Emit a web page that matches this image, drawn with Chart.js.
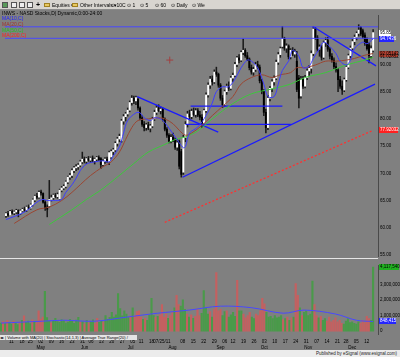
<!DOCTYPE html>
<html><head><meta charset="utf-8">
<script src="https://cdn.jsdelivr.net/npm/chart.js@4.4.1/dist/chart.umd.min.js"></script>
<style>
*{box-sizing:border-box}
html,body{margin:0;padding:0}
body{width:400px;height:357px;overflow:hidden;background:#808080;position:relative;font-family:"Liberation Sans",Arial,sans-serif}
#tb{position:absolute;left:0;top:0;width:400px;height:10px;background:#d8d5d0;border-bottom:1px solid #8c8c8c;font-size:5px;line-height:10px;color:#000;white-space:nowrap}
#tb span{position:absolute;top:0}
.ic{position:absolute;top:2px;width:6px;height:6px;border:1px solid #555;background:#eee}
.fd{position:absolute;top:3px;width:6px;height:4px;background:#e8c860;border:1px solid #a08020}
#title{position:absolute;left:2px;top:10px;font-size:5px;color:#000;white-space:nowrap}
.lg{position:absolute;left:2px;font-size:5px;white-space:nowrap}
#c1{position:absolute;left:0;top:10px}
#c2{position:absolute;left:0;top:261px}
#sep{position:absolute;left:0;top:258px;width:378px;height:1px;background:#e6e6e6}
#tabs{position:absolute;left:0;top:335px;width:137px;height:5px;background:#e4e4e4;font-size:4px;line-height:5px;color:#000;white-space:nowrap;overflow:hidden}
#status{position:absolute;left:0;top:350px;width:400px;height:7px;background:#ececec;font-size:4.5px;line-height:7px;text-align:right;padding-right:3px;color:#222}
</style></head><body>
<canvas id="c1" width="400" height="251"></canvas>
<canvas id="c2" width="400" height="96"></canvas>
<div id="tb">
<div class="ic" style="left:2px;background:#5a9a5a"></div>
<div class="ic" style="left:11px"></div>
<div class="ic" style="left:19px"></div>
<div class="ic" style="left:27px"></div>
<span style="left:36px;font-weight:bold;font-size:7px">+</span>
<div class="fd" style="left:44px"></div>
<span style="left:52px">Equities ▾</span>
<div class="fd" style="left:72px"></div>
<span style="left:80px">Other Intervals ▾</span>
<span style="left:111px">⊙ 10C</span>
<span style="left:127px">⊙ 1</span>
<span style="left:140px">⊙ 5</span>
<span style="left:155px">⊙ 60</span>
<span style="left:171px">⊙ Daily</span>
<span style="left:192px">⊙ We</span>
</div>
<div id="title">INWS - NASD Stocks,D| Dynamic,0:00-24:00</div>
<div class="lg" style="top:15px;color:#2020ff">MA(10,C)</div>
<div class="lg" style="top:21px;color:#a03030">MA(20,C)</div>
<div class="lg" style="top:27px;color:#20c020">MA(50,C)</div>
<div class="lg" style="top:32px;color:#ff2020">MA(200,C)</div>
<div id="sep"></div>
<div id="tabs">◂▸ | Volume with MA(20) | Stochastic(14,1,3) | Average True Range(20) /</div>
<div id="status">Published by eSignal (www.esignal.com)</div>
<script>
// ---- price data (daily, Apr 4 2011 .. Dec 15 2011) ----
const O = [62.2,62.6,62.3,63.0,62.7,62.9,63.2,62.6,63.1,63.4,63.2,63.8,63.6,64.2,65.1,65.8,65.6,66.5,66.3,64.7,63.8,64.0,65.2,65.5,66.0,65.7,65.3,66.9,67.3,67.6,68.4,69.3,69.6,70.5,71.0,71.2,71.5,72.1,72.6,72.2,72.7,72.4,72.8,72.3,72.6,72.9,72.7,71.6,72.2,72.6,72.1,73.0,74.0,74.3,75.5,76.3,76.0,79.6,80.4,80.9,81.6,83.0,83.8,83.3,83.6,82.0,80.2,79.0,78.4,78.9,78.3,78.7,80.0,81.2,82.0,81.5,81.8,80.0,78.1,77.0,75.9,76.6,76.2,74.8,75.9,74.0,70.2,76.6,79.0,80.9,80.4,81.4,80.8,81.5,80.7,80.3,79.2,81.5,84.4,86.2,87.3,86.8,88.6,88.2,86.2,83.8,82.6,85.0,86.0,85.6,87.5,88.0,90.0,91.2,90.8,92.2,92.6,91.6,91.0,89.4,88.6,89.1,90.0,89.5,87.0,85.0,81.2,78.4,83.8,85.6,86.8,87.5,90.4,91.8,93.3,94.7,93.0,93.4,91.4,92.6,91.9,90.6,87.5,84.2,87.3,86.0,87.6,88.8,89.3,92.0,96.5,94.9,92.8,93.2,91.3,94.0,94.4,92.8,91.5,90.8,89.6,89.0,87.2,86.0,85.3,87.2,89.5,91.6,93.0,94.2,95.0,95.7,96.8,96.2,95.4,94.6,93.6,91.6,92.6];
const H = [62.8,63.0,63.2,63.3,63.1,63.4,63.3,63.3,63.6,63.8,64.0,64.2,64.4,65.3,66.0,66.3,66.8,66.9,66.4,65.0,64.2,68.7,66.0,66.2,66.3,66.4,67.1,67.6,67.9,68.6,69.5,70.0,70.8,71.3,71.6,71.8,72.4,73.9,73.0,72.9,73.1,73.0,73.2,72.8,73.1,73.2,72.9,72.5,72.9,73.0,74.1,74.3,74.6,75.8,76.6,77.2,79.9,80.8,81.2,82.0,83.3,84.3,84.2,84.2,83.8,82.2,80.6,79.5,79.2,79.4,79.0,80.3,81.6,82.5,82.6,82.2,82.0,80.2,78.4,77.3,77.1,77.4,76.5,76.2,76.1,74.4,77.0,79.5,81.4,81.6,81.8,82.0,81.9,81.9,81.4,80.8,81.8,84.8,86.6,87.8,87.9,89.0,89.5,88.4,86.5,84.3,85.3,86.4,86.8,87.8,88.4,90.4,91.5,91.8,92.5,94.7,92.9,92.2,91.2,89.9,89.5,90.4,90.6,89.9,87.3,85.4,81.8,84.3,86.0,87.2,87.9,90.8,92.2,93.2,97.0,95.0,93.8,93.6,92.9,93.1,92.8,92.4,88.0,87.8,87.8,88.0,89.2,89.8,92.5,97.0,96.8,95.3,93.6,93.5,94.3,94.9,95.0,93.1,92.0,91.2,90.3,89.3,87.8,87.0,87.5,89.8,91.9,93.4,94.6,95.4,96.0,97.3,97.0,96.5,95.8,94.9,94.0,93.4,96.4];
const L = [61.9,62.1,62.2,62.5,62.4,62.6,62.0,62.4,62.9,63.0,63.0,63.5,63.4,64.0,64.8,65.3,65.4,66.0,64.5,63.2,62.0,63.8,64.9,65.2,65.5,65.4,65.1,66.6,67.0,67.3,68.1,68.9,69.2,70.1,70.5,70.7,71.2,71.8,71.9,71.8,72.2,72.0,72.1,71.7,72.2,72.3,70.9,71.3,71.8,72.0,71.6,72.7,73.4,74.0,75.0,75.8,75.7,79.0,79.6,80.5,81.3,82.5,82.8,82.6,81.6,79.8,78.6,77.8,77.9,78.0,77.6,78.4,79.7,80.8,81.3,80.9,79.6,77.8,76.6,75.6,75.6,75.8,74.4,74.2,70.8,69.3,69.8,75.8,78.5,79.8,80.0,80.5,80.3,80.4,79.8,78.4,78.9,81.2,84.0,85.6,86.2,86.5,87.8,85.8,83.4,82.1,82.3,84.5,85.2,85.3,86.9,87.7,89.6,90.3,90.5,91.8,91.3,90.7,89.0,88.2,88.0,88.7,89.2,86.6,84.6,80.6,77.4,78.0,83.3,85.0,86.2,87.2,90.0,91.3,93.0,92.6,92.2,91.0,91.0,91.6,91.3,85.0,82.0,83.8,85.6,85.7,87.2,88.0,88.4,91.6,94.6,92.4,91.5,90.8,91.0,93.3,92.4,91.0,90.4,89.2,88.6,85.0,85.6,84.5,85.0,86.9,89.2,91.2,92.7,93.6,94.5,95.2,95.3,94.8,93.5,92.6,90.3,91.2,92.3];
const C = [62.6,62.3,63.0,62.7,62.9,63.2,62.6,63.1,63.4,63.2,63.8,63.6,64.2,65.1,65.8,65.6,66.5,66.4,64.7,63.6,63.4,65.2,65.5,66.0,65.7,66.1,66.9,67.3,67.6,68.4,69.3,69.6,70.5,71.0,71.2,71.5,72.1,72.6,72.2,72.7,72.4,72.8,72.3,72.6,72.9,72.5,71.6,72.2,72.6,72.3,73.8,74.0,74.3,75.5,76.3,76.8,79.6,80.4,80.9,81.6,83.0,83.8,83.3,83.9,82.0,80.2,79.0,78.4,78.9,78.3,78.7,80.0,81.2,82.0,81.5,81.8,80.0,78.1,77.0,75.9,76.6,76.2,74.8,75.6,71.3,69.8,76.6,79.0,80.9,80.4,81.4,80.8,81.5,80.7,80.3,79.2,81.5,84.4,86.2,87.3,86.8,88.6,88.2,86.2,83.8,82.6,85.0,86.0,85.6,87.5,88.0,90.0,91.2,90.8,92.2,92.6,91.6,91.0,89.4,88.6,89.1,90.0,89.5,87.0,85.0,81.2,78.4,83.8,85.6,86.8,87.5,90.4,91.8,92.9,94.7,93.0,93.4,91.4,92.6,91.9,92.3,85.4,83.8,87.3,86.0,87.6,88.8,89.3,92.0,96.5,94.9,92.8,93.2,91.3,94.0,94.4,92.8,91.5,90.8,89.6,89.0,87.2,86.0,85.3,87.2,89.5,91.6,93.0,94.2,95.0,95.7,96.3,95.6,95.1,93.9,92.9,91.6,92.9,95.85];
// volume in thousands of shares
const VOL = [520,610,480,700,560,450,640,530,420,590,700,980,560,650,480,720,600,530,1300,780,900,2550,870,650,540,700,820,610,560,740,680,520,590,760,640,500,710,880,560,620,470,690,540,610,720,480,830,560,650,590,1000,760,880,1200,900,1050,2400,1450,980,1300,1100,870,950,1500,1000,1250,1300,900,760,820,700,1050,2100,1000,880,950,1050,1700,900,1100,820,1000,1200,1500,2300,1700,1600,2000,1400,1100,900,1050,820,950,1400,1000,1150,2600,1500,1100,1250,900,1400,3750,1300,1400,1000,1250,1300,900,1050,1200,950,3250,1300,1300,1100,850,1000,1200,900,800,1100,1000,1300,2100,1750,1200,900,950,800,1000,850,900,1000,750,800,900,700,850,900,3050,2300,1500,1000,1200,1300,1000,1100,3200,1700,1000,850,950,700,800,650,900,600,700,850,600,700,500,450,650,800,550,600,500,450,600,500,700,550,950,800,700,4100];
// moving averages (day index -> value)
const MA10_IDX = [0,9,15,18,20,23,27,29,32,34,36,39,43,47,50,52,55,57,59,63,65,67,70,72,75,77,79,82,84,86,87,89,93,97,100,102,105,108,111,114,117,119,122,125,127,130,132,134,137,139,142,144,147,149,152,154,157,160,162,165,167,169,173,175,178];
const MA10 = [61.5,62.9,64.7,65.2,65.0,65.0,65.2,66.5,67.9,69.1,70.5,71.7,72.1,72.3,72.1,73.2,74.9,77.4,79.7,81.1,81.1,80.2,79.7,80.2,80.0,79.3,78.3,76.7,75.6,74.7,74.9,77.4,78.5,80.6,82.9,85.0,85.9,85.9,87.3,89.4,90.8,90.6,89.4,86.4,84.1,84.1,86.4,88.9,90.6,92.6,91.5,89.4,89.7,91.1,92.9,94.1,93.3,92.0,90.6,89.9,90.8,92.9,94.1,93.8,94.7];
const MA20_IDX = [4,15,21,27,32,36,41,47,51,55,58,61,64,69,74,77,81,84,87,90,95,100,105,110,114,119,124,129,133,138,141,145,150,155,160,165,169,174,178];
const MA20 = [60.8,63.3,63.8,65.0,66.5,67.9,69.6,71.2,72.1,73.9,76.2,78.4,79.7,80.0,80.2,80.0,79.1,77.9,77.0,77.4,78.8,80.6,82.3,84.1,86.4,87.6,88.1,87.6,88.1,88.5,89.4,89.4,89.9,90.6,90.6,90.8,91.1,91.7,92.0];
const MA50_IDX = [21,32,39,47,62,69,77,82,87,93,100,110,119,129,138,145,155,165,174,178];
const MA50 = [60.6,63.3,65.2,67.2,71.8,73.9,75.3,76.2,76.7,77.8,80.0,82.8,84.6,85.5,86.4,87.6,88.5,89.9,90.8,91.3];
const MA200_IDX = [77,178];
const MA200 = [61.0,77.9];
const VMA_IDX = [0,20,30,45,60,75,90,105,120,135,145,160,170,178];
const VMA = [520,640,700,640,900,1150,1350,1600,1500,1150,1350,1100,700,620];
// hand-drawn study lines: [startIdx, startPrice, endIdx, endPrice]
const TRENDS = [[-0.5,96.91,180.4,96.91],[-0.5,94.80,180.4,94.80],[63.6,84.09,102.9,77.57],[89.5,82.33,134.0,82.33],[87.0,78.98,138.3,78.98],[85.6,69.28,178.9,86.38],[148.8,96.97,179.4,89.74]];
const CROSS = [{x:79.4,y:90.8}];
// axis ticks
const PRICE_TICKS = [55,60,65,70,75,80,85,90];
const VOL_TICKS = [0,1000,2000,3000];
const WEEK_IDX = [5,10,14,19,24,29,34,39,43,48,53,58,63,67,72,77,87,92,97,102,107,111,116,121,126,131,136,141,146,151,156,161,165,170,175];
const WEEK_LBL = ['11','18','25','02','09','16','23','31','06','13','20','27','05','11','18','07/25/11','08','15','22','29','06','12','19','26','03','10','17','24','31','07','14','21','28','05','12'];
const MONTH_IDX = [19,40,62,82,105,126,147,168];
const MONTH_LBL = ['May','Jun','Jul','Aug','Sep','Oct','Nov','Dec'];

const XMIN = -0.48, XMAX = 180.36;
const FONT = "Liberation Sans";
const idx = C.map((_, i) => i);
const pts = (ix, v) => ix.map((x, k) => ({x, y: v[k]}));

const tagPlugin = {
  id: 'tags',
  afterDraw(ch, args, opts) {
    const ctx = ch.ctx, ys = ch.scales.y;
    ctx.save();
    ctx.font = '4.5px "' + FONT + '"';
    ctx.textBaseline = 'middle';
    (opts.items || []).forEach(t => {
      const py = Math.round(ys.getPixelForValue(t.v));
      if (t.bg) { ctx.fillStyle = t.bg; ctx.fillRect(379, py - 3, t.w, 6); }
      ctx.fillStyle = t.fg;
      ctx.fillText(t.txt, 380, py);
    });
    ctx.restore();
  }
};

const lineDs = (data, color, extra) => Object.assign({type:'line', data, borderColor:color, borderWidth:1, pointRadius:0, fill:false, tension:0.35, order:0}, extra || {});

new Chart(document.getElementById('c1'), {
  type: 'bar',
  data: { datasets: [
    lineDs(pts(MA10_IDX, MA10), '#3c3cff'),
    lineDs(pts(MA20_IDX, MA20), '#9a4632'),
    lineDs(pts(MA50_IDX, MA50), '#3cc83c'),
    lineDs(pts(MA200_IDX, MA200), '#ff3030', {borderDash:[2,2], borderWidth:1.3, tension:0}),
    ...TRENDS.map(t => lineDs([{x:t[0],y:t[1]},{x:t[2],y:t[3]}], (t[1]===t[3] && t[0]<0) ? '#4848ff' : '#1a1aff', {borderWidth:(t[0]<0)?1:1.3, tension:0})),
    {type:'line', data: CROSS, showLine:false, pointStyle:'cross', pointRadius:3.5, borderColor:'#a04040', borderWidth:1, order:0},
    {type:'bar', data: idx.map(i => ({x:i, y:[O[i], C[i]]})), backgroundColor: idx.map(i => C[i] >= O[i] ? '#ffffff' : '#000000'), barThickness:1.3, minBarLength:1, grouped:false, order:1},
    {type:'bar', data: idx.map(i => ({x:i, y:[L[i], H[i]]})), backgroundColor:'#1a1a1a', barThickness:0.9, grouped:false, order:2}
  ]},
  options: {
    responsive:false, animation:false, devicePixelRatio:1,
    layout:{padding:0},
    plugins:{legend:{display:false}, tooltip:{enabled:false},
      tags:{items:[
        {v:C[C.length-1], txt:'95.85', bg:'#ffffff', fg:'#000', w:12},
        {v:MA10[MA10.length-1], txt:'94.7436', bg:'#2424ff', fg:'#fff', w:15},
        {v:MA20[MA20.length-1], txt:'92.05143', bg:'#b04030', fg:'#000', w:19},
        {v:MA50[MA50.length-1], txt:'91.02852', fg:'#000'},
        {v:MA200[MA200.length-1], txt:'77.92032', bg:'#ff2020', fg:'#fff', w:19}
      ]}},
    scales:{
      x:{type:'linear', min:XMIN, max:XMAX, display:false, offset:false},
      y:{position:'right', min:54.81, max:99.08, afterFit:s => { s.width = 22; },
         afterBuildTicks:s => { s.ticks = PRICE_TICKS.map(v => ({value:v})); },
         grid:{display:false, drawTicks:false}, border:{display:true, color:'#4a4a4a'},
         ticks:{font:{size:4.5, family:FONT}, color:'#000', padding:2, callback:v => v.toFixed(2)}}
    }
  },
  plugins:[tagPlugin]
});

new Chart(document.getElementById('c2'), {
  type: 'bar',
  data: { datasets: [
    lineDs(pts(VMA_IDX, VMA), '#4848ff'),
    {type:'bar', data: idx.map(i => ({x:i, y:VOL[i]})), backgroundColor: idx.map(i => C[i] >= O[i] ? '#4a9a4a' : '#c46060'), barThickness:1.5, grouped:false, order:1}
  ]},
  options: {
    responsive:false, animation:false, devicePixelRatio:1,
    layout:{padding:{bottom:6}},
    plugins:{legend:{display:false}, tooltip:{enabled:false},
      tags:{items:[
        {v:VOL[VOL.length-1], txt:'4,117,540', bg:'#20b020', fg:'#000', w:20},
        {v:VMA[VMA.length-1], txt:'848,415', bg:'#2424ff', fg:'#fff', w:17}
      ]}},
    scales:{
      x:{type:'linear', min:XMIN, max:XMAX, position:'bottom', weight:0, offset:false,
         grid:{display:false, drawTicks:false}, border:{display:false},
         afterFit:s => { s.height = 11; },
         afterBuildTicks:s => { s.ticks = WEEK_IDX.map(v => ({value:v})); },
         ticks:{autoSkip:false, maxRotation:0, padding:5, font:{size:4.5, family:FONT}, color:'#000', callback:(v, i) => WEEK_LBL[i]}},
      xm:{type:'linear', axis:'x', min:XMIN, max:XMAX, position:'bottom', weight:1, offset:false,
         grid:{display:false, drawTicks:false}, border:{display:false},
         afterFit:s => { s.height = 6; },
         afterBuildTicks:s => { s.ticks = MONTH_IDX.map(v => ({value:v})); },
         ticks:{autoSkip:false, maxRotation:0, padding:0, font:{size:4.5, family:FONT}, color:'#000', callback:(v, i) => MONTH_LBL[i]}},
      y:{position:'right', min:-180, max:4190, afterFit:s => { s.width = 22; },
         afterBuildTicks:s => { s.ticks = VOL_TICKS.map(v => ({value:v})); },
         grid:{display:false, drawTicks:false}, border:{display:true, color:'#4a4a4a'},
         ticks:{font:{size:4.5, family:FONT}, color:'#000', padding:2, callback:v => (v * 1000).toLocaleString('en-US')}}
    }
  },
  plugins:[tagPlugin]
});
</script>
</body></html>
